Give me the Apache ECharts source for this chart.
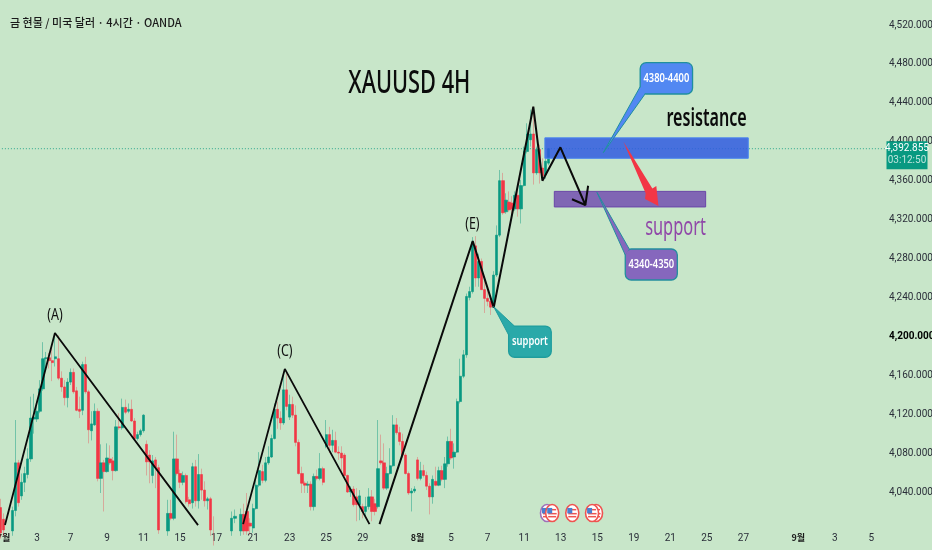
<!DOCTYPE html>
<html><head><meta charset="utf-8">
<style>html,body{margin:0;padding:0;background:#c8e6c9}#c{width:932px;height:550px}</style>
<script src="https://cdn.jsdelivr.net/npm/echarts@6/dist/echarts.min.js"></script>
</head><body><div id="c"></div>
<script>
const opens=[4024,4012,3998,3988,4000,4021,4070,4036,4050,4058,
4074,4115,4115,4123,4146,4177,4178,4175,4177,4177,
4157,4148,4137,4153,4163,4144,4125,4124,4171,4143,
4103,4109,4123,4054,4070,4061,4074,4072,4062,4107,
4106,4127,4123,4125,4113,4095,4099,4103,4089,4078,
4057,4073,4065,4001,3992,4000,4018,4013,4074,4059,
4050,4057,4032,4029,4066,4031,4058,4042,4031,4033,
4002,3992,3985,3978,3985,3990,4000,4013,4003,4000,
4017,4020,4008,4003,4023,4047,4061,4052,4070,4076,
4095,4125,4116,4111,4145,4117,4130,4119,4091,4059,
4049,4047,4048,4025,4056,4054,4064,4087,4099,4088,
4093,4081,4080,4078,4057,4040,4043,4035,4027,4025,
4020,4025,4035,4028,4025,4072,4070,4044,4059,4067,
4109,4101,4092,4078,4059,4039,4041,4073,4054,4062,
4057,4046,4035,4051,4047,4062,4053,4069,4092,4076,
4081,4133,4159,4181,4240,4246,4293,4260,4277,4248,
4239,4236,4234,4263,4304,4360,4328,4338,4337,4331,
4345,4331,4355,4390,4402,4408,4368,4392,4373,4366,4378];
const closes=[3998,4001,3990,4000,4021,4070,4029,4050,4059,4074,
4116,4117,4123,4146,4177,4178,4175,4173,4179,4157,
4148,4137,4153,4163,4143,4124,4123,4171,4143,4104,
4110,4123,4054,4070,4061,4075,4070,4062,4107,4106,
4127,4122,4125,4113,4095,4099,4103,4119,4071,4071,
4072,4065,4001,3990,3998,4018,4013,4074,4059,4050,
4057,4030,4028,4066,4031,4058,4042,4031,4033,4001,
3992,3985,3978,3985,3990,3998,4013,4015,3998,4017,
4000,4000,4005,4023,4047,4062,4052,4070,4076,4095,
4125,4116,4111,4145,4128,4130,4119,4091,4059,4049,
4047,4048,4025,4056,4054,4064,4050,4099,4088,4093,
4081,4080,4075,4057,4040,4043,4027,4027,4036,4020,
4025,4035,4020,4020,4064,4070,4044,4059,4067,4109,
4101,4092,4078,4059,4039,4041,4043,4054,4062,4057,
4046,4035,4053,4047,4062,4053,4069,4092,4075,4081,
4133,4159,4181,4241,4246,4297,4260,4277,4248,4239,
4236,4230,4263,4304,4360,4327,4340,4330,4331,4345,
4331,4355,4390,4408,4408,4368,4392,4368,4365,4380,4392.855];
const highs=[4033,4018,4004,4005,4025,4114,4073,4059,4066,4085,
4138,4141,4128,4155,4194,4184,4183,4189,4203,4201,
4164,4155,4157,4167,4167,4148,4138,4174,4179,4145,
4123,4131,4126,4089,4073,4090,4088,4076,4114,4121,
4136,4135,4131,4135,4116,4102,4105,4120,4093,4083,
4078,4076,4068,4004,4005,4032,4032,4102,4099,4063,
4061,4059,4035,4070,4073,4079,4064,4051,4035,4035,
4015,3998,3990,3992,3997,4003,4020,4022,4004,4023,
4028,4039,4013,4028,4052,4081,4068,4076,4087,4099,
4131,4133,4123,4162,4162,4140,4138,4129,4094,4066,
4051,4051,4051,4059,4063,4080,4066,4114,4107,4104,
4102,4087,4087,4080,4058,4046,4046,4044,4042,4028,
4035,4044,4042,4033,4114,4099,4090,4066,4085,4119,
4116,4107,4100,4080,4061,4044,4046,4076,4071,4068,
4061,4049,4057,4066,4066,4067,4076,4097,4105,4090,
4136,4177,4186,4244,4251,4302,4303,4285,4280,4261,
4251,4241,4267,4314,4371,4368,4347,4349,4344,4349,
4350,4361,4395,4419,4433,4436,4395,4397,4383,4383,4393];
const lows=[3992,3995,3985,3985,3995,4015,4025,4032,4040,4054,
4071,4100,4112,4121,4144,4167,4167,4154,4169,4155,
4143,4129,4127,4150,4141,4123,4116,4119,4141,4090,
4093,4108,4051,4039,4020,4060,4068,4052,4061,4104,
4104,4120,4121,4112,4093,4093,4097,4101,4057,4049,
4049,4044,3997,3985,3985,3995,4011,4011,4057,4044,
4047,4028,4025,4023,4025,4023,4032,4025,4022,3995,
3985,3980,3972,3975,3980,3986,3995,4008,3993,3995,
3996,3996,3996,3998,4022,4045,4049,4050,4068,4075,
4094,4105,4104,4109,4124,4114,4116,4087,4058,4039,
4039,4039,4021,4021,4052,4052,4047,4085,4080,4081,
4080,4073,4059,4056,4039,4035,4025,4010,4011,4013,
4015,4022,4010,4016,4023,4068,4042,4042,4058,4066,
4099,4088,4075,4058,4037,4020,4039,4052,4052,4055,
4042,4017,4028,4046,4046,4051,4044,4066,4073,4064,
4080,4131,4157,4178,4237,4244,4251,4251,4248,4224,
4231,4222,4231,4261,4302,4325,4326,4328,4323,4329,
4323,4316,4354,4388,4395,4356,4366,4357,4361,4362,4376];
const lastPrice=4392.855;
const countdown='03:12:50';
const barCount=291;
const tickBars=[1,12,23,35,47,59,71,83,95,107,119,137,148,160,172,184,196,208,220,232,244,262,274,286];
const tickTexts=['7월','3','7','9','11','15','17','21','23','25','29','8월','5','7','11','13','15','19','21','25','27','9월','3','5'];
const priceTicks=[4040,4080,4120,4160,4200,4240,4280,4320,4360,4400,4440,4480,4520];
const zigzagA=[[1.5,4006],[17.9,4203.5],[64.9,4006]];
const zigzagC=[[79.7,4007],[93.4,4166.5],[121.2,4007]];
const zigzagE=[[124.5,4007],[155.1,4298],[162,4229.5],[175,4436],[178,4360],[183.9,4394.3],[192.1,4335]];
const zigzagHead=[[187.7,4340.9],[192.1,4335],[193,4354.8]];
const resistanceZone=[178.8,245.6,4404,4383];
const supportZone=[181.9,231.6,4349,4333];
const redArrow=[[204.6,4400.1],[214.1,4352],[215.4,4354.5],[216.1,4334],[211.7,4341.2],[211.9,4347]];
const calloutBlue={box:[210.1,227.3,4481.3,4449.1],tail:[[210.1,4456.6],[198,4388.8],[211.7,4449.1]],text:'4380-4400'};
const calloutPurple={box:[205.2,222.3,4289.8,4257.9],tail:[[205.2,4283.6],[195.9,4348],[206.5,4289.8]],text:'4340-4350'};
const calloutTeal={box:[166.9,180.9,4210.6,4178.5],tail:[[166.9,4201.4],[162,4230.5],[168.8,4210.6]],text:'support'};
const chartTexts=[
 {t:'(A)',i:17.9,p:4221,size:16,color:'#111',sx:.78},
 {t:'(C)',i:93.4,p:4185,size:16,color:'#111',sx:.78},
 {t:'(E)',i:155,p:4315.5,size:16,color:'#111',sx:.78},
 {t:'XAUUSD 4H',i:134.3,p:4459.5,size:33,color:'#0b0b0b',sx:.66,w:500},
 {t:'resistance',i:231.9,p:4423.4,size:26,color:'#0b0b0b',sx:.62,w:600},
 {t:'support',i:221.7,p:4311.4,size:26,color:'#9048a8',sx:.63}
];
const eventIcons=[[179.5,4018.5,'#a070b8'],[181.2,4018.5,'#ef5350'],[187.8,4018.5,'#ef5350'],[195.6,4018.5,'#ef5350'],[194.3,4018.5,'#ef5350']];

const UP='#089981',DOWN='#f23645';
const axisFont='Roboto,sans-serif';
const categories=Array.from({length:barCount},(_,i)=>{const k=tickBars.indexOf(i);return k<0?'':tickTexts[k];});
const wickData=opens.map((o,i)=>[o,closes[i],lows[i],highs[i]]);
const bodyData=opens.map((o,i)=>[o,closes[i],Math.min(o,closes[i]),Math.max(o,closes[i])]);

function customSeries(z,render,clip){
  return {type:'custom',xAxisIndex:1,yAxisIndex:0,z,silent:true,clip:clip!==false,data:[[100,4300]],renderItem:render};
}
function rectOf(api,b){
  const a=api.coord([b[0],b[2]]),c=api.coord([b[1],b[3]]);
  return {x:a[0],y:a[1],width:c[0]-a[0],height:c[1]-a[1]};
}
function zone(b,fill,stroke){
  return customSeries(20,(p,api)=>({type:'rect',shape:rectOf(api,b),style:{fill,stroke,lineWidth:1}}));
}
function callout(c,fill,stroke){
  return customSeries(30,(p,api)=>{
    const r=rectOf(api,c.box);
    const pts=c.tail.map(q=>api.coord(q));
    return {type:'group',children:[
      {type:'rect',shape:Object.assign({r:6},r),style:{fill,stroke,lineWidth:1.3}},
      {type:'polygon',shape:{points:pts},style:{fill}},
      {type:'polyline',shape:{points:pts},style:{fill:'none',stroke,lineWidth:1}},
      {type:'text',x:r.x+r.width/2,y:r.y+r.height/2,scaleX:.78,style:{text:c.text,x:0,y:0,align:'center',verticalAlign:'middle',fill:'#fff',font:'600 12px "Noto Sans",sans-serif'}}
    ]};
  });
}
const lineOf=(data,w)=>({type:'line',xAxisIndex:1,yAxisIndex:0,data,symbol:'none',silent:true,z:25,lineStyle:{color:'#0a0a0a',width:w}});

const option={
  animation:false,
  backgroundColor:'#c8e6c9',
  title:{text:'금 현물 / 미국 달러 · 4시간 · OANDA',left:5,top:12,textStyle:{fontFamily:'"Noto Sans CJK KR",sans-serif',fontSize:11,fontWeight:500,color:'#1a1a1a'}},
  grid:{left:-1.1,top:0,width:886.1,height:525,outerBoundsMode:'none',containLabel:false},
  xAxis:[
    {type:'category',data:categories,boundaryGap:true,axisLine:{show:false},axisTick:{show:false},splitLine:{show:false},
     axisLabel:{interval:0,hideOverlap:false,margin:8,fontFamily:axisFont,fontSize:10,color:'#2a2e39',
       formatter:v=>v.endsWith('월')?'{b|'+v+'}':v,
       rich:{b:{fontFamily:'"Noto Sans CJK KR",sans-serif',fontSize:9,fontWeight:700,color:'#1a1a1a'}}}},
    {type:'value',show:false,min:-0.5,max:barCount-0.5,splitLine:{show:false}}
  ],
  yAxis:{type:'value',position:'right',min:4006.1,max:4545.7,scale:true,
    axisLine:{show:false},axisTick:{show:false},splitLine:{show:false},
    axisLabel:{customValues:priceTicks,margin:4,fontFamily:axisFont,fontSize:10,color:'#2a2e39',
      formatter:v=>{const s=v.toLocaleString('en-US')+'.000';return v===4200?'{b|'+s+'}':s;},
      rich:{b:{fontFamily:axisFont,fontSize:10,fontWeight:700,color:'#000'}}}},
  series:[
    {type:'candlestick',name:'wicks',data:wickData,barWidth:1,silent:true,z:5,
     itemStyle:{color:'rgba(8,153,129,.45)',color0:'rgba(242,54,69,.35)',borderColor:'rgba(8,153,129,.45)',borderColor0:'rgba(242,54,69,.35)',borderWidth:1}},
    {type:'candlestick',name:'bodies',data:bodyData,barWidth:2.8,silent:true,z:6,
     itemStyle:{color:UP,color0:DOWN,borderColor:UP,borderColor0:DOWN,borderWidth:0.6}},
    {type:'line',xAxisIndex:1,yAxisIndex:0,data:[[-0.5,lastPrice],[barCount-0.5,lastPrice]],symbol:'none',silent:true,z:7,
     lineStyle:{color:'#089981',width:1,type:[1,2],opacity:.8}},
    zone(resistanceZone,'rgba(48,90,225,.85)','#4a86f0'),
    zone(supportZone,'rgba(110,70,175,.8)','#6a45a8'),
    lineOf(zigzagA,1.8),lineOf(zigzagC,1.8),lineOf(zigzagE,2),lineOf(zigzagHead,2),
    customSeries(28,(p,api)=>({type:'polygon',shape:{points:redArrow.map(q=>api.coord(q))},style:{fill:DOWN}})),
    callout(calloutBlue,'#5288f2','#1f8f9f'),
    callout(calloutPurple,'#8667bd','#238d9f'),
    callout(calloutTeal,'#2aa9a9','#1f9d9d'),
    customSeries(40,(p,api)=>({type:'group',children:chartTexts.map(o=>{
      const c=api.coord([o.i,o.p]);
      return {type:'text',x:c[0],y:c[1],scaleX:o.sx,style:{text:o.t,x:0,y:0,align:'center',verticalAlign:'middle',fill:o.color,font:(o.w||400)+' '+o.size+'px "Noto Sans",sans-serif'}};
    })})),
    customSeries(41,(p,api)=>({type:'group',children:eventIcons.map(o=>{
      const c=api.coord([o[0],o[1]]);
      return {type:'group',x:c[0],y:c[1],children:[
        {type:'ellipse',shape:{cx:0,cy:0,rx:6.5,ry:8.5},style:{fill:'#fff',stroke:o[2],lineWidth:1.6}},
        {type:'rect',shape:{x:-4,y:-4,width:8,height:1.5},style:{fill:'#ef5350'}},
        {type:'rect',shape:{x:-4,y:0,width:8.5,height:1.5},style:{fill:'#ef5350'}},
        {type:'rect',shape:{x:-4,y:3,width:8,height:1.5},style:{fill:'#ef5350'}},
        {type:'rect',shape:{x:-5,y:-5,width:5,height:5.5},style:{fill:'#4a7fd0'}}
      ]};
    })}),false),
    customSeries(50,(p,api)=>{
      const y=api.coord([0,lastPrice])[1];
      const left=p.coordSys.x+p.coordSys.width+1.5;
      return {type:'group',children:[
        {type:'rect',shape:{x:left,y:y-7.5,width:41,height:28},style:{fill:UP}},
        {type:'text',style:{text:lastPrice.toFixed(3).replace(/^(\d)(\d{3})/,'$1,$2'),x:left+20.5,y:y-.5,align:'center',verticalAlign:'middle',fill:'#fff',font:'10px '+axisFont}},
        {type:'text',style:{text:countdown,x:left+20.5,y:y+12,align:'center',verticalAlign:'middle',fill:'#bfe5dd',font:'10px '+axisFont}}
      ]};
    },false)
  ]
};
echarts.init(document.getElementById('c'),null,{renderer:'canvas'}).setOption(option);
</script></body></html>
